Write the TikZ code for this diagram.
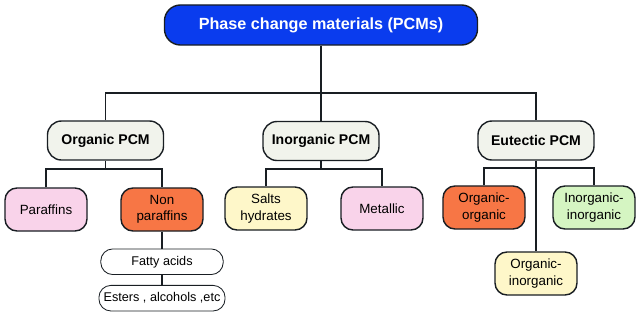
\documentclass[tikz,border=0pt]{standalone}
\usepackage{fontspec}
\setmainfont{Liberation Sans}
\usepackage{xcolor}
\usetikzlibrary{positioning}

\definecolor{pcmblue}{RGB}{10,60,238}
\definecolor{groupgray}{RGB}{241,243,236}
\definecolor{leafpink}{RGB}{249,211,234}
\definecolor{leaforange}{RGB}{247,118,69}
\definecolor{leafyellow}{RGB}{254,247,201}
\definecolor{leafgreen}{RGB}{213,245,194}
\definecolor{edgedark}{RGB}{25,30,35}

\begin{document}
\begin{tikzpicture}[
    x=0.025cm, y=-0.025cm,
    node distance=0.42cm,
    every node/.style={font=\fontsize{9.5}{11.5}\selectfont},
    root/.style={
        draw=edgedark,
        line width=1pt,
        fill=pcmblue,
        text=white,
        rounded corners=0.4cm,
        minimum width=7.825cm,
        minimum height=1cm,
        font=\fontsize{11.5}{13}\selectfont\bfseries
    },
    group/.style={
        draw=edgedark,
        line width=1pt,
        fill=groupgray,
        rounded corners=0.35cm,
        minimum width=2.9cm,
        minimum height=0.975cm,
        font=\fontsize{10}{12}\selectfont\bfseries
    },
    leaf/.style={
        draw=edgedark,
        line width=1pt,
        rounded corners=0.3cm,
        align=center,
        minimum width=2.05cm,
        minimum height=1.075cm
    },
    subleaf/.style={
        draw=edgedark,
        line width=0.6pt,
        rounded corners=0.3cm,
        minimum width=3.06cm,
        minimum height=0.64cm,
        font=\fontsize{9}{11}\selectfont
    },
    link/.style={draw=edgedark, line width=0.8pt}
]
\useasboundingbox (0,0) rectangle (640,316);

% top level
\node[root] (pcm) at (321,25) {Phase change materials (PCMs)};

% families
\node[group] (organic) at (105.5,140.5) {Organic PCM};
\node[group] (inorganic) at (321,141) {Inorganic PCM};
\node[group] (eutectic) at (536,140.5) {Eutectic PCM};

% organic branch
\node[leaf, fill=leafpink] (paraffins) at (46,209.5) {Paraffins};
\node[leaf, fill=leaforange] (nonpar) at (162,209.5) {Non\\paraffins};
\node[subleaf, below=of nonpar] (fatty) {Fatty acids};
\node[subleaf, below=0.25cm of fatty] (esters) {Esters , alcohols ,etc};

% inorganic branch
\node[leaf, fill=leafyellow] (salts) at (266,208.5) {Salts\\hydrates};
\node[leaf, fill=leafpink] (metallic) at (382,208.5) {Metallic};

% eutectic branch
\node[leaf, fill=leaforange] (orgorg) at (484,207.5) {Organic-\\organic};
\node[leaf, fill=leafgreen] (inorginorg) at (594,207.5) {Inorganic-\\inorganic};
\node[leaf, fill=leafyellow] (orginorg) at (536,273.5) {Organic-\\inorganic};

% bus lines
\coordinate (topbus) at (321,93);
\coordinate (orgbus) at (105.5,169);
\coordinate (inorgbus) at (321,169);
\coordinate (eutbus) at (536,168);

\draw[link] (pcm.south) -- (inorganic.north);
\draw[link] (organic.north) |- (topbus) -| (eutectic.north);

\draw[link] (organic.south) -- (orgbus);
\draw[link] (paraffins.north) |- (orgbus) -| (nonpar.north);
\draw[link] (nonpar.south) -- (fatty.north);
\draw[link] (fatty.south) -- (esters.north);

\draw[link] (inorganic.south) -- (inorgbus);
\draw[link] (salts.north) |- (inorgbus) -| (metallic.north);

\draw[link] (eutectic.south) -- (orginorg.north);
\draw[link] (orgorg.north) |- (eutbus) -| (inorginorg.north);

\end{tikzpicture}
\end{document}
